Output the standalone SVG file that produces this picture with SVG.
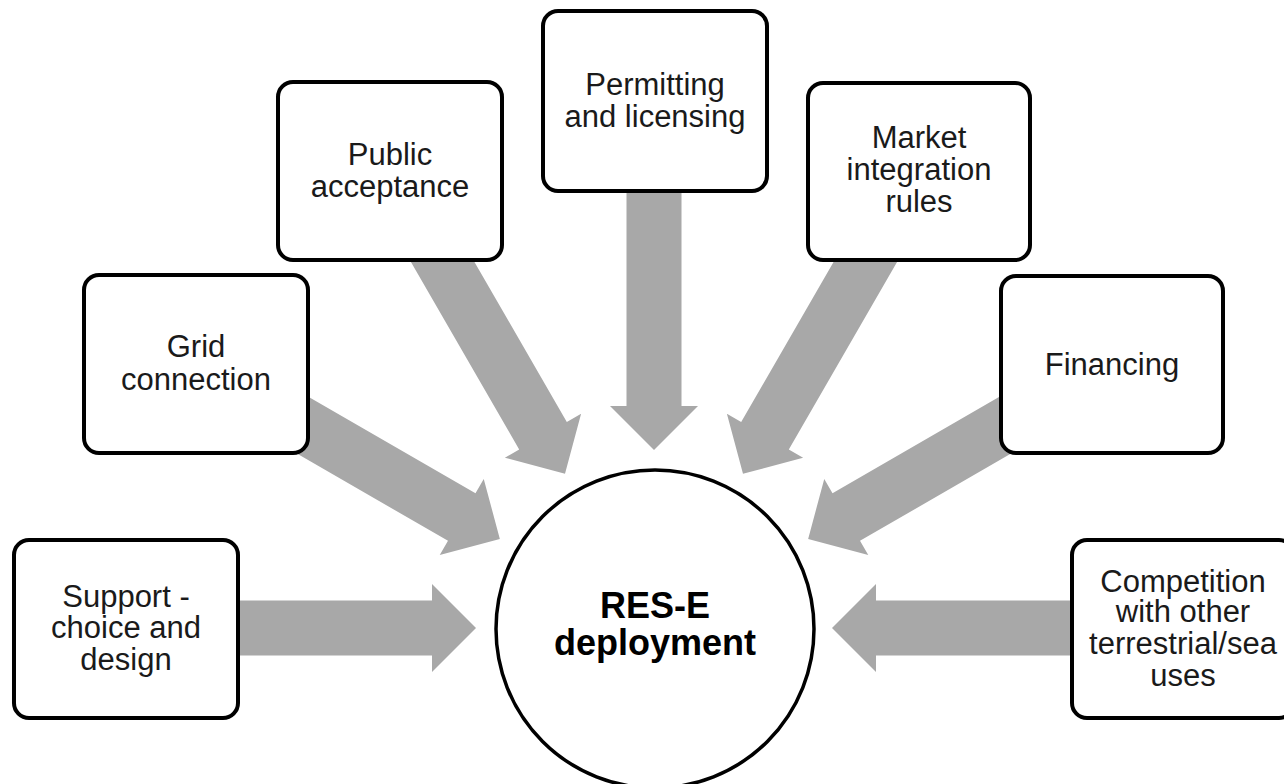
<svg xmlns="http://www.w3.org/2000/svg" width="1284" height="784" viewBox="0 0 1284 784">
<style>
.box{fill:#fff;stroke:#000;stroke-width:4}
.t{font-family:"Liberation Sans",Arial,sans-serif;font-size:31px;fill:#1a1a1a;text-anchor:middle}
.c{font-family:"Liberation Sans",Arial,sans-serif;font-size:36px;font-weight:bold;fill:#000;text-anchor:middle}
.arr{fill:#a8a8a8}
</style>
<defs>
<polygon id="arrow" points="178,0 222,-44 222,-27.5 460,-27.5 460,27.5 222,27.5 222,44"/>
</defs>
<rect width="1284" height="784" fill="#fff"/>
<g id="connectors" class="arr">
<use href="#arrow" transform="translate(654,628) rotate(180)"/>
<use href="#arrow" transform="translate(654,628) rotate(210)"/>
<use href="#arrow" transform="translate(654,628) rotate(240)"/>
<use href="#arrow" transform="translate(654,628) rotate(270)"/>
<use href="#arrow" transform="translate(654,628) rotate(300)"/>
<use href="#arrow" transform="translate(654,628) rotate(330)"/>
<use href="#arrow" transform="translate(654,628) rotate(0)"/>
</g>
<g id="node-support">
<rect class="box" x="14" y="540" width="224" height="178" rx="15"/>
<text class="t" x="126" y="607">Support -</text>
<text class="t" x="126" y="638">choice and</text>
<text class="t" x="126" y="670">design</text>
</g>
<g id="node-grid">
<rect class="box" x="84" y="275" width="224" height="178" rx="15"/>
<text class="t" x="196" y="357">Grid</text>
<text class="t" x="196" y="390">connection</text>
</g>
<g id="node-public">
<rect class="box" x="278" y="82" width="224" height="178" rx="15"/>
<text class="t" x="390" y="165">Public</text>
<text class="t" x="390" y="197">acceptance</text>
</g>
<g id="node-permitting">
<rect class="box" x="543" y="11" width="224" height="180" rx="15"/>
<text class="t" x="655" y="95">Permitting</text>
<text class="t" x="655" y="127">and licensing</text>
</g>
<g id="node-market">
<rect class="box" x="808" y="83" width="222" height="177" rx="15"/>
<text class="t" x="919" y="148">Market</text>
<text class="t" x="919" y="180">integration</text>
<text class="t" x="919" y="212">rules</text>
</g>
<g id="node-financing">
<rect class="box" x="1001" y="276" width="222" height="177" rx="15"/>
<text class="t" x="1112" y="375">Financing</text>
</g>
<g id="node-competition">
<rect class="box" x="1072" y="540" width="222" height="178" rx="15"/>
<text class="t" x="1183" y="592">Competition</text>
<text class="t" x="1183" y="622">with other</text>
<text class="t" x="1183" y="654">terrestrial/sea</text>
<text class="t" x="1183" y="686">uses</text>
</g>
<g id="node-center">
<circle cx="655" cy="629" r="159" fill="#fff" stroke="#000" stroke-width="3.5"/>
<text class="c" x="655" y="618">RES-E</text>
<text class="c" x="655" y="655">deployment</text>
</g>
</svg>
